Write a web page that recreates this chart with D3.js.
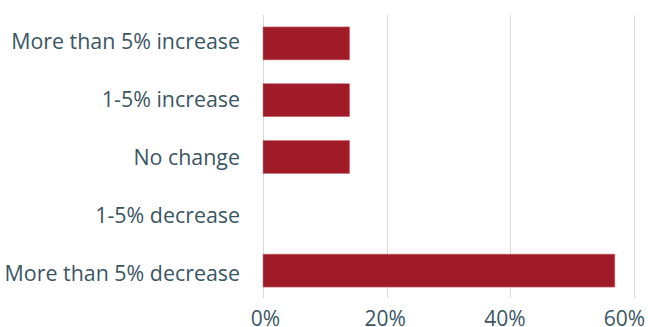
<!DOCTYPE html>
<html>
<head>
<meta charset="utf-8">
<script src="https://cdn.jsdelivr.net/npm/d3@7"></script>
<style>
  html, body { margin: 0; padding: 0; background: #fff; overflow: hidden; }
  svg text { font-family: 'Open Sans', sans-serif; fill: #3b5663; }
</style>
</head>
<body>
<div id="chart"></div>
<script>
// Data
const categories = [
  'More than 5% increase',
  '1-5% increase',
  'No change',
  '1-5% decrease',
  'More than 5% decrease'
];
const values = [14, 14, 14, 0, 56.9];
const xTicks = [0, 20, 40, 60];

const width = 648;
const height = 327;
const margin = { top: 15, right: 14, bottom: 28, left: 263 };
const innerHeight = height - margin.top - margin.bottom;

const svg = d3.select('#chart')
  .append('svg')
  .attr('width', width)
  .attr('height', height)
  .style('display', 'block');

const g = svg.append('g').attr('transform', `translate(${margin.left},${margin.top})`);

const x = d3.scaleLinear().domain([0, 60]).range([0, 371]);
// tick labels sit slightly left of the gridlines in the original
const xLabel = d3.scaleLinear().domain([0, 60]).range([2, 361]);
const y = d3.scaleBand().domain(categories).range([0, innerHeight]).paddingInner(0.42).paddingOuter(0.21);
// category labels are spread a little wider than the bars
const yLabel = d3.scalePoint().domain(categories).range([25.7, 257.5]);

// gridlines
g.selectAll('.grid')
  .data(xTicks)
  .enter()
  .append('line')
  .attr('x1', d => Math.round(x(d)) + 0.5)
  .attr('x2', d => Math.round(x(d)) + 0.5)
  .attr('y1', 0)
  .attr('y2', innerHeight - 1)
  .attr('stroke', '#d9d9d9')
  .attr('stroke-width', 1);

// bars
g.selectAll('.bar')
  .data(categories.map((c, i) => ({ c, v: values[i] })))
  .enter()
  .append('rect')
  .attr('class', 'bar')
  .attr('x', x(0))
  .attr('y', d => y(d.c))
  .attr('width', d => x(d.v))
  .attr('height', y.bandwidth())
  .attr('fill', '#9e1b27')
  .attr('stroke', d => d.v > 0 ? '#c8707a' : 'none')
  .attr('stroke-width', 0.6);

// category labels
const yAxis = d3.axisLeft(yLabel).tickSize(0).tickPadding(23);
g.append('g')
  .call(yAxis)
  .call(a => a.select('.domain').remove())
  .selectAll('text')
  .attr('dy', '0.36em')
  .style('font-size', '21.4px');

// x tick labels
const xAxis = d3.axisBottom(xLabel).tickValues(xTicks).tickSize(0).tickPadding(11).tickFormat(d => d + '%');
g.append('g')
  .attr('transform', `translate(0,${innerHeight})`)
  .call(xAxis)
  .call(a => a.select('.domain').remove())
  .selectAll('text')
  .attr('dy', '0.76em')
  .style('font-size', '21px');
</script>
</body>
</html>
